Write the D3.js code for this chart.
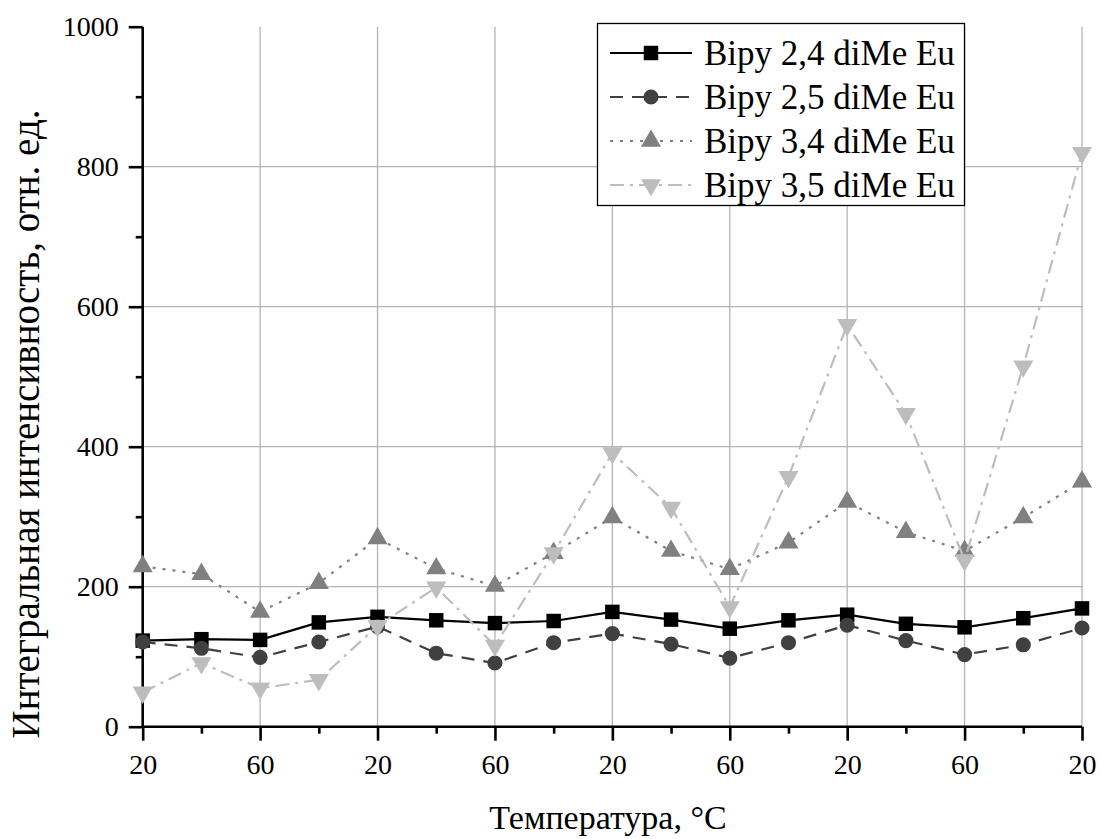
<!DOCTYPE html>
<html><head><meta charset="utf-8">
<script src="https://cdn.jsdelivr.net/npm/d3@7"></script>
<style>body{margin:0;background:#fff;} svg{display:block;} text{font-family:"Liberation Serif",serif;}</style>
</head><body>
<script>
const xTickLabels = ["20","60","20","60","20","60","20","60","20"];
const seriesNames = ["Bipy 2,4 diMe Eu","Bipy 2,5 diMe Eu","Bipy 3,4 diMe Eu","Bipy 3,5 diMe Eu"];
const s24 = [123,125,124,149,157,152,148,151,164,153,140,152,160,147,142,155,169];
const s25 = [121,112,99,121,143,105,91,120,133,118,98,120,145,123,103,117,141];
const s34 = [229,218,164,205,269,226,201,248,299,251,225,263,321,278,251,299,350];
const s35 = [49,91,55,67,144,199,116,248,391,313,171,357,574,447,238,515,820];
const yTicks = [0,200,400,600,800,1000];

const W = 1101, H = 839;
const m = {left:142.7, right:1082, top:26.7, bottom:726.7};
const svg = d3.select("body").append("svg").attr("width",W).attr("height",H);
const font = "'Liberation Serif', serif";

const x = d3.scaleLinear().domain([0,16]).range([m.left,m.right]);
const y = d3.scaleLinear().domain([0,1000]).range([m.bottom,m.top]);

// grid
const g = svg.append("g");
g.selectAll(".vg").data(d3.range(2,17,2)).enter().append("line")
  .attr("x1",d=>x(d)).attr("x2",d=>x(d)).attr("y1",m.top).attr("y2",m.bottom)
  .attr("stroke","#b4b4b4").attr("stroke-width",1.3);
g.selectAll(".hg").data([200,400,600,800]).enter().append("line")
  .attr("x1",m.left).attr("x2",m.right).attr("y1",d=>y(d)).attr("y2",d=>y(d))
  .attr("stroke","#b4b4b4").attr("stroke-width",1.3);

// axes
const xAxis = d3.axisBottom(x).tickValues(d3.range(0,17,2)).tickSize(14).tickPadding(13)
  .tickFormat((d,i)=>xTickLabels[i]);
const xa = svg.append("g").attr("transform",`translate(0,${m.bottom})`).call(xAxis);
const xMinor = d3.axisBottom(x).tickValues(d3.range(1,17,2)).tickSize(7).tickFormat("");
const xm = svg.append("g").attr("transform",`translate(0,${m.bottom})`).call(xMinor);
const yAxis = d3.axisLeft(y).tickValues(yTicks).tickSize(14).tickPadding(10).tickFormat(d3.format("d"));
const ya = svg.append("g").attr("transform",`translate(${m.left},0)`).call(yAxis);
const yMinor = d3.axisLeft(y).tickValues([100,300,500,700,900]).tickSize(7).tickFormat("");
const ym = svg.append("g").attr("transform",`translate(${m.left},0)`).call(yMinor);
[xa,xm,ya,ym].forEach(a=>{
  a.attr("font-family",null).attr("font-size",null);
  a.select(".domain").attr("stroke","#000").attr("stroke-width",2.6);
  a.selectAll(".tick line").attr("stroke","#000").attr("stroke-width",2.6);
  a.selectAll("text").style("font-family",font).style("font-size","28px").attr("fill","#000");
});
xm.select(".domain").remove(); ym.select(".domain").remove();
xa.select(".domain").attr("d",`M${m.left},0H${m.right}`);
ya.select(".domain").attr("d",`M0,${m.bottom}V${m.top}`);

// titles
svg.append("text").attr("x",608).attr("y",829).attr("text-anchor","middle")
  .style("font-family",font).style("font-size","34px").text("Температура, °C");
svg.append("text").attr("transform","translate(39,424) rotate(-90)").attr("text-anchor","middle")
  .style("font-family",font).style("font-size","39px").text("Интегральная интенсивность, отн. ед.");

// series
const series = [
  {name:seriesNames[0], data:s24, color:"#000000", dash:null, shape:d3.symbolSquare, size:210, rot:0},
  {name:seriesNames[1], data:s25, color:"#404040", dash:"13,9", shape:d3.symbolCircle, size:180, rot:0},
  {name:seriesNames[2], data:s34, color:"#808080", dash:"3,7", shape:d3.symbolTriangle, size:175, rot:0},
  {name:seriesNames[3], data:s35, color:"#bdbdbd", dash:"14,6,3,6", shape:d3.symbolTriangle, size:175, rot:180},
];
const line = d3.line().x((d,i)=>x(i)).y(d=>y(d));
series.forEach(s=>{
  svg.append("path").datum(s.data).attr("d",line).attr("fill","none")
    .attr("stroke",s.color).attr("stroke-width",2.2).attr("stroke-dasharray",s.dash);
  svg.selectAll(null).data(s.data).enter().append("path")
    .attr("d",d3.symbol().type(s.shape).size(s.size))
    .attr("transform",(d,i)=>`translate(${x(i)},${y(d)}) rotate(${s.rot})`)
    .attr("fill",s.color);
});

// legend
const lg = svg.append("g");
lg.append("rect").attr("x",597.5).attr("y",23.5).attr("width",367).attr("height",182)
  .attr("fill","#fff").attr("stroke","#000").attr("stroke-width",1.3);
series.forEach((s,i)=>{
  const cy = 53 + i*44;
  lg.append("line").attr("x1",610).attr("x2",692).attr("y1",cy).attr("y2",cy)
    .attr("stroke",s.color).attr("stroke-width",2.2).attr("stroke-dasharray",s.dash);
  lg.append("path").attr("d",d3.symbol().type(s.shape).size(s.size))
    .attr("transform",`translate(651,${cy}) rotate(${s.rot})`).attr("fill",s.color);
  lg.append("text").attr("x",704).attr("y",cy+12)
    .style("font-family",font).style("font-size","35px").text(s.name);
});
</script>
</body></html>
